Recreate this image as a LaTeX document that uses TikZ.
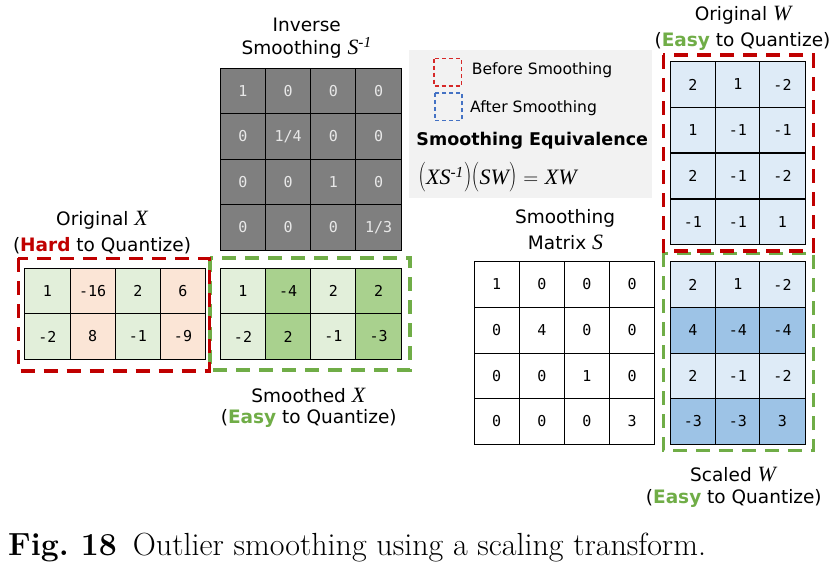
\documentclass[tikz,border=0pt]{standalone}
\usepackage{amsmath}
\usepackage{fontspec}
\setsansfont{DejaVu Sans}
\setmonofont{DejaVu Sans Mono}
\newfontfamily\eqfont{Liberation Serif}
\usepackage{tikz}
\definecolor{hardred}{HTML}{C00000}
\definecolor{easygreen}{HTML}{70AD47}
\definecolor{legendblue}{HTML}{4472C4}
\definecolor{legendred}{HTML}{D62828}
\definecolor{legendbg}{HTML}{F2F2F2}
\definecolor{invgray}{HTML}{7F7F7F}
\definecolor{invtext}{HTML}{E8E8E8}
\definecolor{lgreen}{HTML}{E2EFDA}
\definecolor{mgreen}{HTML}{A9D18E}
\definecolor{lorange}{HTML}{FBE5D6}
\definecolor{lblue}{HTML}{DEEBF7}
\definecolor{mblue}{HTML}{9DC3E6}
\newcommand{\mvar}[1]{\scalebox{1.18}{\eqfont\itshape #1}}
\newcommand{\tallparen}[1]{\scalebox{1}[1.35]{\rmfamily #1}}

\begin{document}
\begin{tikzpicture}[scale=0.3514]
        \tikzstyle{every node}+=[inner sep=0pt]
        \tikzstyle{cell}=[draw=black, line width=1pt, minimum width=45.3pt, minimum height=45.5pt, font=\fontsize{15}{17}\ttfamily]
        \tikzstyle{invcell}=[cell, fill=invgray, text=invtext]
        \tikzstyle{title}=[font=\fontsize{18.5}{21}\sffamily]
        \tikzstyle{redbox}=[draw=hardred, line width=3.5pt, dash pattern=on 14pt off 9pt]
        \tikzstyle{greenbox}=[draw=easygreen, line width=3.5pt, dash pattern=on 14pt off 9pt]
        \useasboundingbox (0,0) rectangle (83.4,-57);
        % legend
        \fill [legendbg] (40.9,-5.0) rectangle (65.17,-19.77);
        \draw [legendred, line width=1.5pt, dash pattern=on 4pt off 3pt] (43.4,-5.87) rectangle (46.17,-8.6);
        \draw [legendblue, line width=1.5pt, dash pattern=on 4pt off 3pt] (43.5,-9.3) rectangle (46.2,-12.07);
        \node [anchor=west, font=\fontsize{15.6}{18}\sffamily] (before) at (47.17,-7.0) {Before Smoothing};
        \node [anchor=west, font=\fontsize{15.6}{18}\sffamily] (after) at (47.0,-10.8) {After Smoothing};
        \node [font=\fontsize{17.5}{20}\sffamily\bfseries] (equiv) at (53.22,-14.1) {Smoothing Equivalence};
        \node [font=\fontsize{22}{24}\selectfont] (eqn) at (49.75,-17.75) {\tallparen{(}{\eqfont\itshape XS\textsuperscript{-1}}\tallparen{)}\tallparen{(}{\eqfont\itshape SW}\tallparen{)} $=$ {\eqfont\itshape XW}};
        % inverse smoothing
        \node [title] (invtitle) at (30.67,-2.5) {Inverse};
        \node [title] (invtitle2) at (30.67,-4.8) {Smoothing \mvar{S\textsuperscript{-1}}};
        \node [invcell] (inv11) at (24.30,-9.10) {1};
        \node [invcell] (inv12) at (28.82,-9.10) {0};
        \node [invcell] (inv13) at (33.34,-9.10) {0};
        \node [invcell] (inv14) at (37.86,-9.10) {0};
        \node [invcell] (inv21) at (24.30,-13.65) {0};
        \node [invcell] (inv22) at (28.82,-13.65) {1/4};
        \node [invcell] (inv23) at (33.34,-13.65) {0};
        \node [invcell] (inv24) at (37.86,-13.65) {0};
        \node [invcell] (inv31) at (24.30,-18.20) {0};
        \node [invcell] (inv32) at (28.82,-18.20) {0};
        \node [invcell] (inv33) at (33.34,-18.20) {1};
        \node [invcell] (inv34) at (37.86,-18.20) {0};
        \node [invcell] (inv41) at (24.30,-22.74) {0};
        \node [invcell] (inv42) at (28.82,-22.74) {0};
        \node [invcell] (inv43) at (33.34,-22.74) {0};
        \node [invcell] (inv44) at (37.86,-22.74) {1/3};
        % original X
        \node [title] (oxtitle) at (10.2,-22.07) {Original \mvar{X}};
        \node [title] (oxsub) at (10.2,-24.57) {(\textcolor{hardred}{\textbf{Hard}} to Quantize)};
        \node [cell, fill=lgreen] (ox11) at (4.75,-29.10) {1};
        \node [cell, fill=lorange] (ox12) at (9.27,-29.10) {-16};
        \node [cell, fill=lgreen] (ox13) at (13.78,-29.10) {2};
        \node [cell, fill=lorange] (ox14) at (18.30,-29.10) {6};
        \node [cell, fill=lgreen] (ox21) at (4.75,-33.65) {-2};
        \node [cell, fill=lorange] (ox22) at (9.27,-33.65) {8};
        \node [cell, fill=lgreen] (ox23) at (13.78,-33.65) {-1};
        \node [cell, fill=lorange] (ox24) at (18.30,-33.65) {-9};
        % smoothed X
        \node [cell, fill=lgreen] (sx11) at (24.30,-29.10) {1};
        \node [cell, fill=mgreen] (sx12) at (28.82,-29.10) {-4};
        \node [cell, fill=lgreen] (sx13) at (33.34,-29.10) {2};
        \node [cell, fill=mgreen] (sx14) at (37.86,-29.10) {2};
        \node [cell, fill=lgreen] (sx21) at (24.30,-33.65) {-2};
        \node [cell, fill=mgreen] (sx22) at (28.82,-33.65) {2};
        \node [cell, fill=lgreen] (sx23) at (33.34,-33.65) {-1};
        \node [cell, fill=mgreen] (sx24) at (37.86,-33.65) {-3};
        \node [title] (sxtitle) at (30.83,-39.5) {Smoothed \mvar{X}};
        \node [title] (sxsub) at (30.87,-41.83) {(\textcolor{easygreen}{\textbf{Easy}} to Quantize)};
        \draw [greenbox] (21.0,-25.8) rectangle (41.0,-37.0);
        \draw [redbox] (1.83,-25.83) rectangle (20.93,-37.1);
        % smoothing matrix S
        \node [title] (smtitle) at (56.5,-21.83) {Smoothing};
        \node [title] (smtitle2) at (56.55,-24.27) {Matrix \mvar{S}};
        \node [cell, fill=white] (sm11) at (49.67,-28.45) {1};
        \node [cell, fill=white] (sm12) at (54.18,-28.45) {0};
        \node [cell, fill=white] (sm13) at (58.70,-28.45) {0};
        \node [cell, fill=white] (sm14) at (63.22,-28.45) {0};
        \node [cell, fill=white] (sm21) at (49.67,-33.03) {0};
        \node [cell, fill=white] (sm22) at (54.18,-33.03) {4};
        \node [cell, fill=white] (sm23) at (58.70,-33.03) {0};
        \node [cell, fill=white] (sm24) at (63.22,-33.03) {0};
        \node [cell, fill=white] (sm31) at (49.67,-37.62) {0};
        \node [cell, fill=white] (sm32) at (54.18,-37.62) {0};
        \node [cell, fill=white] (sm33) at (58.70,-37.62) {1};
        \node [cell, fill=white] (sm34) at (63.22,-37.62) {0};
        \node [cell, fill=white] (sm41) at (49.67,-42.14) {0};
        \node [cell, fill=white] (sm42) at (54.18,-42.14) {0};
        \node [cell, fill=white] (sm43) at (58.70,-42.14) {0};
        \node [cell, fill=white] (sm44) at (63.22,-42.14) {3};
        % original W
        \node [title] (owtitle) at (74.3,-1.5) {Original \mvar{W}};
        \node [title] (owsub) at (74.25,-4.17) {(\textcolor{easygreen}{\textbf{Easy}} to Quantize)};
        \node [cell, fill=lblue] (ow11) at (69.28,-8.45) {2};
        \node [cell, fill=lblue] (ow12) at (73.78,-8.45) {1};
        \node [cell, fill=lblue] (ow13) at (78.25,-8.45) {-2};
        \node [cell, fill=lblue] (ow21) at (69.28,-13.00) {1};
        \node [cell, fill=lblue] (ow22) at (73.78,-13.00) {-1};
        \node [cell, fill=lblue] (ow23) at (78.25,-13.00) {-1};
        \node [cell, fill=lblue] (ow31) at (69.28,-17.60) {2};
        \node [cell, fill=lblue] (ow32) at (73.78,-17.60) {-1};
        \node [cell, fill=lblue] (ow33) at (78.25,-17.60) {-2};
        \node [cell, fill=lblue] (ow41) at (69.28,-22.18) {-1};
        \node [cell, fill=lblue] (ow42) at (73.78,-22.18) {-1};
        \node [cell, fill=lblue] (ow43) at (78.25,-22.18) {1};
        % scaled W
        \node [cell, fill=lblue] (sw11) at (69.28,-28.45) {2};
        \node [cell, fill=lblue] (sw12) at (73.78,-28.45) {1};
        \node [cell, fill=lblue] (sw13) at (78.25,-28.45) {-2};
        \node [cell, fill=mblue] (sw21) at (69.28,-33.03) {4};
        \node [cell, fill=mblue] (sw22) at (73.78,-33.03) {-4};
        \node [cell, fill=mblue] (sw23) at (78.25,-33.03) {-4};
        \node [cell, fill=lblue] (sw31) at (69.28,-37.62) {2};
        \node [cell, fill=lblue] (sw32) at (73.78,-37.62) {-1};
        \node [cell, fill=lblue] (sw33) at (78.25,-37.62) {-2};
        \node [cell, fill=mblue] (sw41) at (69.28,-42.14) {-3};
        \node [cell, fill=mblue] (sw42) at (73.78,-42.14) {-3};
        \node [cell, fill=mblue] (sw43) at (78.25,-42.14) {3};
        \node [title] (swtitle) at (73.3,-47.5) {Scaled \mvar{W}};
        \node [title] (swsub) at (73.38,-49.83) {(\textcolor{easygreen}{\textbf{Easy}} to Quantize)};
        \draw [greenbox] (66.33,-25.33) rectangle (81.33,-45.07);
        \draw [redbox] (66.33,-5.5) rectangle (81.33,-25.1);
        % caption
        \node [anchor=west, font=\fontsize{32}{35}\rmfamily] (caption) at (0.8,-54.8) {\textbf{Fig.\ 18}\hspace{0.5em}Outlier smoothing using a scaling transform.};
\end{tikzpicture}
\end{document}
